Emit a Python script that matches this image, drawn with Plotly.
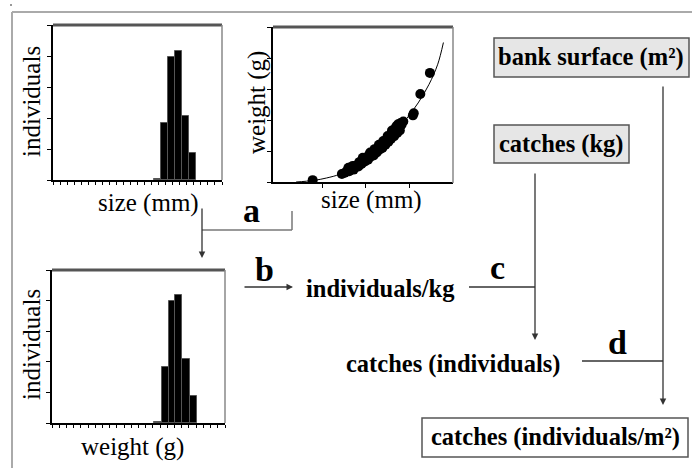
import plotly.graph_objects as go

# ---------------- data ----------------
size_bins = [14.8, 15.8, 16.8, 17.8, 18.8, 19.8]
size_counts = [0.04, 1.84, 3.97, 4.16, 2.06, 0.87]

weight_bins = [14.7, 15.7, 16.7, 17.6, 18.6, 19.6]
weight_counts = [0.04, 1.83, 3.99, 4.18, 2.09, 0.88]

lw_size = [0.78, 1.45, 1.52, 1.58, 1.62, 1.68, 1.72, 1.75, 1.80, 1.83,
           1.88, 1.90, 1.95, 1.98, 2.02, 2.05, 2.08, 2.12, 2.15, 2.18,
           2.22, 2.25, 2.28, 2.32, 2.35, 2.38, 2.42, 2.45, 2.48, 2.52,
           2.55, 2.58, 2.62, 2.65, 2.68, 2.72, 2.75, 2.78, 2.82, 2.86,
           3.08, 3.10, 3.25, 3.47,
           1.60, 1.70, 1.85, 1.93, 2.00, 2.10, 2.20, 2.30, 2.40, 2.50,
           2.60, 2.70, 2.80, 2.66, 2.74]
lw_weight = [0.06, 0.26, 0.30, 0.38, 0.35, 0.45, 0.40, 0.52, 0.55, 0.50,
             0.65, 0.58, 0.72, 0.66, 0.80, 0.72, 0.88, 0.82, 0.95, 0.86,
             1.02, 0.95, 1.12, 1.05, 1.18, 1.10, 1.28, 1.20, 1.38, 1.30,
             1.46, 1.40, 1.55, 1.48, 1.62, 1.58, 1.72, 1.66, 1.85, 1.95,
             2.15, 2.22, 2.84, 3.52,
             0.46, 0.52, 0.64, 0.78, 0.74, 0.95, 1.06, 1.20, 1.32, 1.48,
             1.66, 1.80, 1.90, 1.70, 1.86]

fit_size = [0.4, 0.8, 1.1, 1.4, 1.7, 2.0, 2.3, 2.6, 2.9, 3.2, 3.45, 3.65, 3.78]
fit_weight = [0.0, 0.05, 0.13, 0.25, 0.48, 0.78, 1.12, 1.5, 1.98, 2.55, 3.15, 3.8, 4.5]

W, H = 692, 468
FONT = "Liberation Serif"


def X(px):
    return px / W


def Y(py):
    return 1 - py / H


fig = go.Figure()

fig.add_trace(go.Bar(x=size_bins, y=size_counts, width=1.0,
                     marker=dict(color="black", line=dict(color="#555", width=1)),
                     xaxis="x", yaxis="y", showlegend=False))
fig.add_trace(go.Scatter(x=fit_size, y=fit_weight, mode="lines",
                         line=dict(color="black", width=1, shape="spline"),
                         xaxis="x2", yaxis="y2", showlegend=False))
fig.add_trace(go.Scatter(x=lw_size, y=lw_weight, mode="markers",
                         marker=dict(color="black", size=10),
                         xaxis="x2", yaxis="y2", showlegend=False))
fig.add_trace(go.Bar(x=weight_bins, y=weight_counts, width=1.0,
                     marker=dict(color="black", line=dict(color="#555", width=1)),
                     xaxis="x3", yaxis="y3", showlegend=False))

ax_common = dict(showgrid=False, zeroline=False, showticklabels=False,
                 showline=True, linecolor="black", linewidth=1.5,
                 ticks="outside", tickcolor="black", fixedrange=True)

fig.update_layout(
    width=W, height=H, margin=dict(l=0, r=0, t=0, b=0),
    paper_bgcolor="white", plot_bgcolor="white", bargap=0,
    xaxis=dict(domain=[X(53), X(222)], range=[0, 24], dtick=1, ticklen=3,
               anchor="y", **ax_common),
    yaxis=dict(domain=[Y(180), Y(25)], range=[0, 5], dtick=1, ticklen=4,
               anchor="x", **ax_common),
    xaxis2=dict(domain=[X(273), X(453)], range=[-0.13, 4.0], tickvals=[1, 2, 3],
                ticklen=4, anchor="y2", **ax_common),
    yaxis2=dict(domain=[Y(182), Y(27)], range=[0, 5], dtick=1, ticklen=4,
                anchor="x2", **ax_common),
    xaxis3=dict(domain=[X(52), X(225)], range=[0, 24], dtick=1, ticklen=3,
                anchor="y3", **ax_common),
    yaxis3=dict(domain=[Y(423), Y(270)], range=[0, 5], dtick=1, ticklen=4,
                anchor="x3", **ax_common),
)

shapes = []


def line(x0, y0, x1, y1, color="#333", width=1.3):
    shapes.append(dict(type="line", xref="paper", yref="paper",
                       x0=X(x0), y0=Y(y0), x1=X(x1), y1=Y(y1),
                       line=dict(color=color, width=width)))


def rect(x0, y0, x1, y1, fill):
    shapes.append(dict(type="rect", xref="paper", yref="paper",
                       x0=X(x0), y0=Y(y0), x1=X(x1), y1=Y(y1),
                       fillcolor=fill, line=dict(color="#555", width=1.5),
                       layer="below"))


# outer frame
line(12, 12, 692, 12, "#aaa", 2)
line(12, 12, 12, 468, "#aaa", 2)
shapes.append(dict(type="circle", xref="paper", yref="paper",
                   x0=X(10), y0=Y(4), x1=X(12), y1=Y(6),
                   fillcolor="#777", line=dict(width=0)))

# plot box tops / rights
line(53, 25, 222, 25, "#555", 3)
line(222, 25, 222, 180, "#888", 1.5)
line(273, 27, 453, 27, "#555", 3)
line(453, 27, 453, 183, "#888", 1.5)
line(52, 270, 225, 270, "#555", 3)
line(225, 270, 225, 423, "#888", 1.5)

# connector lines
line(292, 211, 292, 230, "#777", 1.5)
line(292, 230, 202, 230, "#777", 1.5)
line(469, 287, 535, 287)
line(582, 361, 663, 361)

# boxes
rect(494, 38, 689, 77, "#e6e6e6")
rect(494, 125, 629, 163, "#e6e6e6")
rect(422, 418, 688, 457, "white")

fig.update_layout(shapes=shapes)

ann = []


def text(x, y, s, size, bold=False, angle=0):
    f = dict(family=FONT, size=size, color="black",
             weight="bold" if bold else "normal")
    ann.append(dict(x=X(x), y=Y(y), xref="paper", yref="paper", text=s,
                    showarrow=False, textangle=angle,
                    xanchor="center", yanchor="middle", font=f))


def arrow(x0, y0, x1, y1):
    ann.append(dict(x=X(x1), y=Y(y1), xref="paper", yref="paper", text="",
                    showarrow=True, ax=x0 - x1, ay=y0 - y1,
                    arrowhead=2, arrowsize=1, arrowwidth=1.3, arrowcolor="#333"))


# axis titles
text(31, 102, "individuals", 25, angle=-90)
text(148, 203, "size (mm)", 25)
text(257, 103, "weight (g)", 25, angle=-90)
text(371, 200, "size (mm)", 25)
text(31, 345, "individuals", 25, angle=-90)
text(132, 447, "weight (g)", 25)

# step letters
text(251, 211, "a", 34, bold=True)
text(264, 269, "b", 34, bold=True)
text(497, 267, "c", 34, bold=True)
text(617, 342, "d", 34, bold=True)

# flow texts
text(380, 288, "individuals/kg", 24.5, bold=True)
text(453, 364, "catches (individuals)", 24.5, bold=True)
text(591, 57, "bank surface (m²)", 24.5, bold=True)
text(561, 144, "catches (kg)", 24.5, bold=True)
text(555, 437, "catches (individuals/m²)", 24.5, bold=True)

# arrows
arrow(202, 207, 202, 258)
arrow(243, 287, 293, 287)
arrow(535, 172, 535, 340)
arrow(663, 85, 663, 405)

fig.update_layout(annotations=ann)

fig.write_html("out.html", config={"displayModeBar": False},
               post_script="document.body.style.margin='0';")
